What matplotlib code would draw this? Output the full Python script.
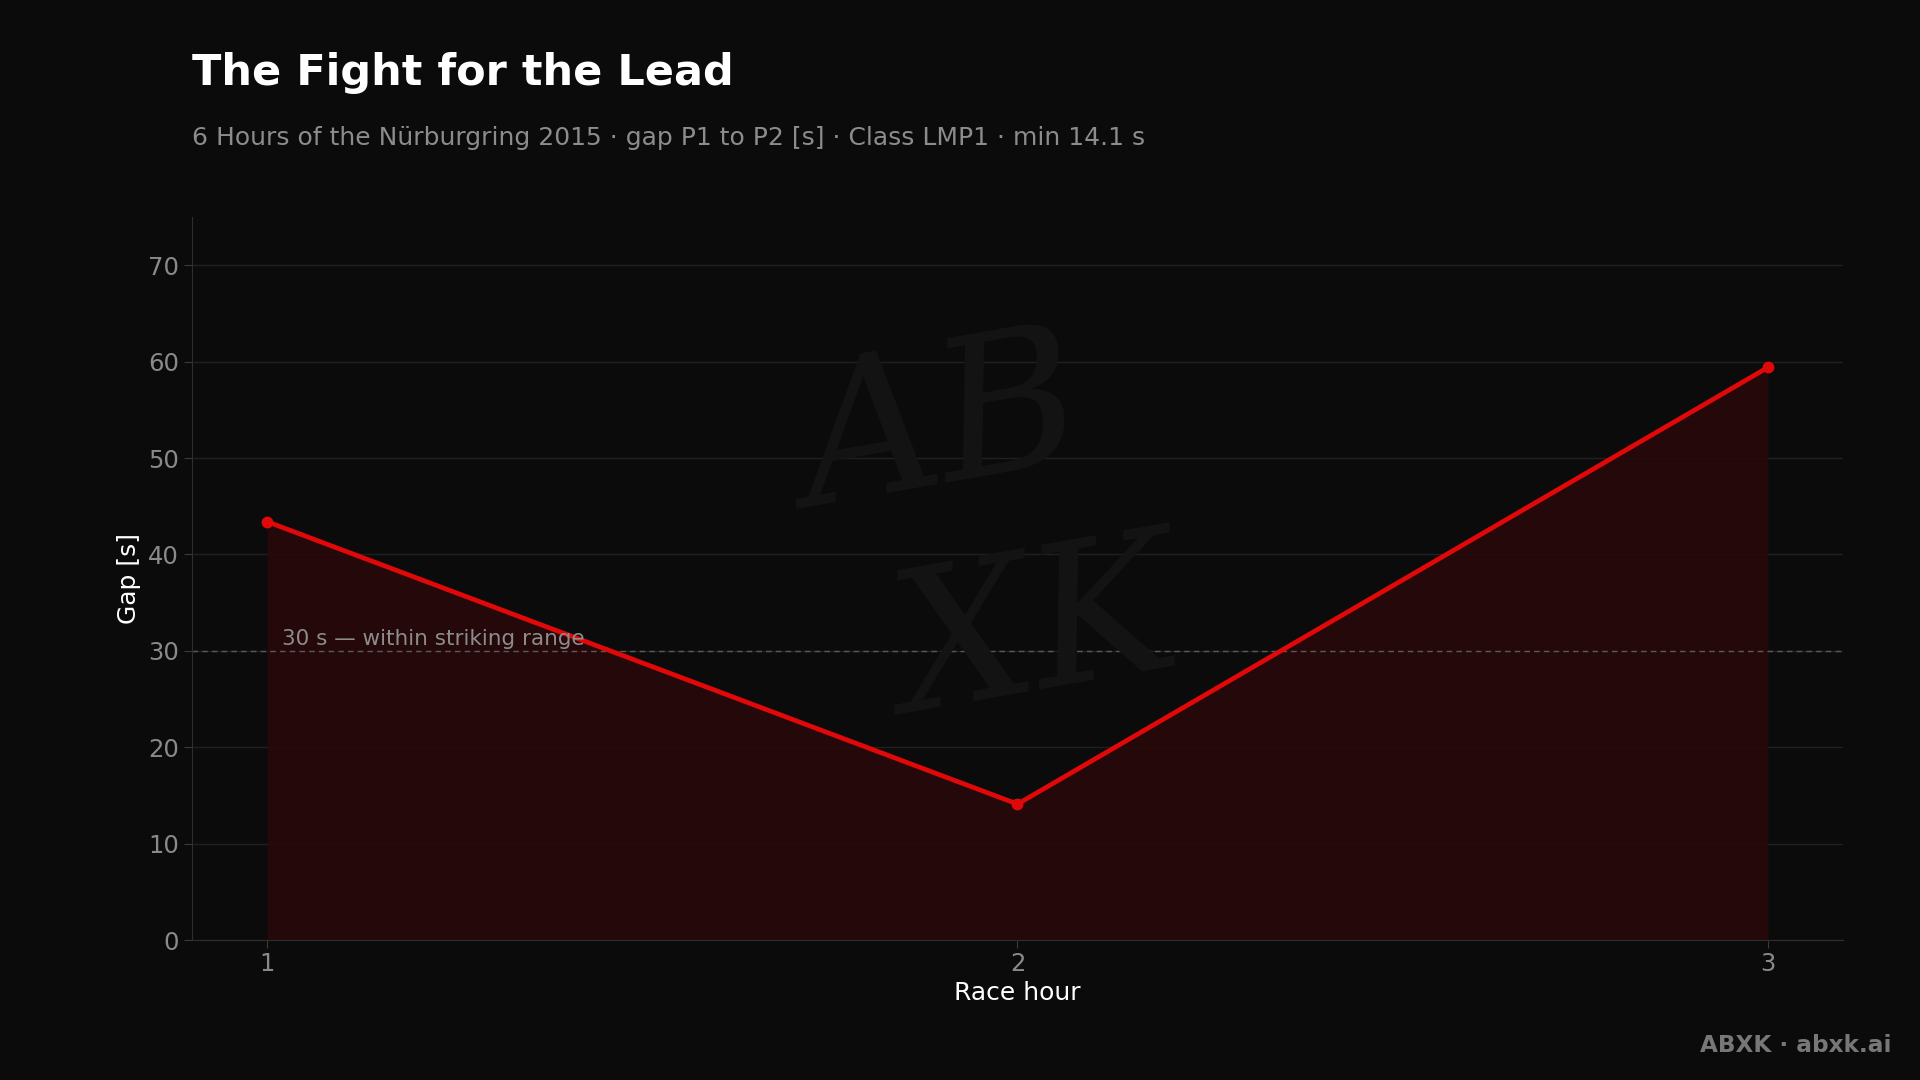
import matplotlib
matplotlib.use("Agg")
import matplotlib.pyplot as plt

# data
race_hour = [1, 2, 3]
gap_s = [43.4, 14.1, 59.4]
threshold = 30
threshold_label = "30 s \u2014 within striking range"

title = "The Fight for the Lead"
subtitle = "6 Hours of the N\u00fcrburgring 2015 \u00b7 gap P1 to P2 [s] \u00b7 Class LMP1 \u00b7 min 14.1 s"
footer = "ABXK \u00b7 abxk.ai"

bg = "#0b0b0b"
red = "#e00808"

plt.rcParams['font.family'] = ['DejaVu Sans']

fig = plt.figure(figsize=(19.2, 10.8), dpi=100, facecolor=bg)
ax = fig.add_axes([192 / 1920, 1 - 940 / 1080, (1843 - 192) / 1920, (940 - 217) / 1080])
ax.set_facecolor(bg)

# faint signature watermark behind the data
fig.text(0.49, 0.60, "AB", fontsize=140, style="italic", family="DejaVu Serif",
         color="#141414", ha="center", va="center", zorder=0, rotation=10)
fig.text(0.54, 0.41, "XK", fontsize=140, style="italic", family="DejaVu Serif",
         color="#141414", ha="center", va="center", zorder=0, rotation=10)

ax.fill_between(race_hour, gap_s, 0, color="#2a0809", alpha=0.85, zorder=1, linewidth=0)
ax.plot(race_hour, gap_s, color=red, linewidth=3.4, marker="o", markersize=7.5, zorder=3)

ax.axhline(threshold, color="#5a5a5a", linewidth=1, linestyle=(0, (4, 3)), zorder=2)
ax.text(1.02, threshold + 0.15, threshold_label, color="#8c8c8c", fontsize=15.5,
        ha="left", va="bottom", zorder=4)

ax.set_xlim(0.9, 3.1)
ax.set_ylim(0, 75)
ax.set_xticks(race_hour)
ax.set_yticks(range(0, 71, 10))
ax.grid(axis="y", color="#202020", linewidth=1)
ax.set_axisbelow(True)

for side in ["top", "right"]:
    ax.spines[side].set_visible(False)
for side in ["left", "bottom"]:
    ax.spines[side].set_color("#2e2e2e")
ax.tick_params(colors="#3a3a3a", labelcolor="#8a8a8a", labelsize=17.5, length=6)
ax.tick_params(axis="x", pad=2.5)

ax.set_xlabel("Race hour", color="white", fontsize=18, labelpad=4)
ax.set_ylabel("Gap [s]", color="white", fontsize=18, labelpad=5)

fig.text(192 / 1920, 1 - 73 / 1080, title, color="white", fontsize=31,
         fontweight="bold", ha="left", va="center")
fig.text(192 / 1920, 1 - 138 / 1080, subtitle, color="#8c8c8c", fontsize=18,
         ha="left", va="center")
fig.text(1891 / 1920, 1 - 1045 / 1080, footer, color="#777777", fontsize=16.7,
         fontweight="bold", ha="right", va="center")

fig.savefig("out.png", dpi=100, facecolor=bg)
